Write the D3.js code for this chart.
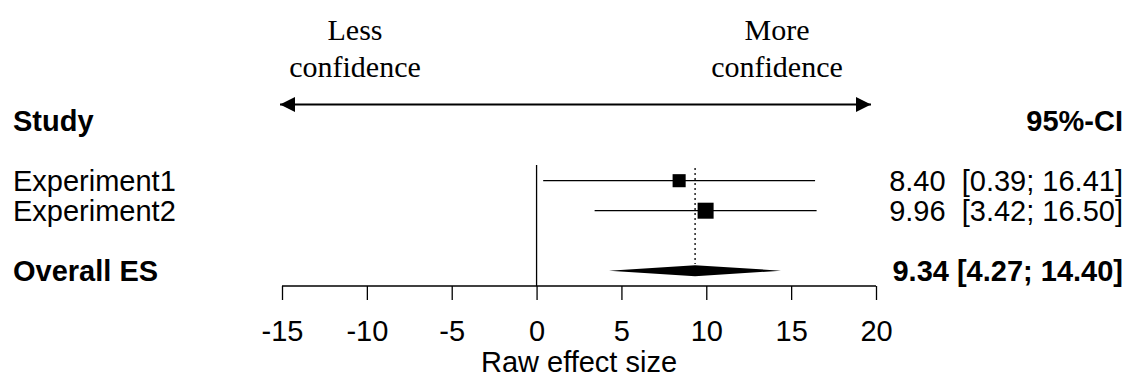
<!DOCTYPE html>
<html>
<head>
<meta charset="utf-8">
<script src="https://cdn.jsdelivr.net/npm/d3@7"></script>
<style>
  html, body { margin: 0; padding: 0; background: #fff; }
  svg { display: block; }
  text { white-space: pre; }
</style>
</head>
<body>
<svg id="chart" width="1126" height="383"></svg>
<script>
// Study-level estimates (raw effect size) with 95% confidence intervals
const studies = ["Experiment1", "Experiment2"];
const effects = [8.40, 9.96];
const lowerCI = [0.39, 3.42];
const upperCI = [16.41, 16.50];
const weights = [40.0, 60.0];

// Pooled estimate
const pooledLabel = "Overall ES";
const pooledEffect = 9.34;
const pooledLower = 4.27;
const pooledUpper = 14.40;

// Axis
const tickValues = [-15, -10, -5, 0, 5, 10, 15, 20];
const xDomain = [-15, 20];
const xLabel = "Raw effect size";
const leftHeader = "Study";
const rightHeader = "95%-CI";
const arrowLabels = [["Less", "confidence"], ["More", "confidence"]];

const svg = d3.select("#chart");
const sans = "'Liberation Sans', Arial, Helvetica, sans-serif";
const serif = "'Liberation Serif', 'Times New Roman', serif";
const fs = 29;

const x = d3.scaleLinear().domain(xDomain).range([282, 876]);
const rowKeys = ["header", "blank1", ...studies, "blank2", "pooled"];
const y = d3.scalePoint().domain(rowKeys).range([120.7, 270.7]);
const boxSize = d3.scaleSqrt().domain([0, d3.max(weights)]).range([0, 16]);

const fmt = d3.format(".2f");
const ciText = (e, l, u, sep) => `${fmt(e)}${sep}[${fmt(l)}; ${fmt(u)}]`;

// Headers
svg.append("text").attr("x", 13).attr("y", y("header")).attr("dy", "0.35em")
  .attr("font-family", sans).attr("font-size", fs).attr("font-weight", "bold")
  .text(leftHeader);
svg.append("text").attr("x", 1123).attr("y", y("header")).attr("dy", "0.35em")
  .attr("text-anchor", "end")
  .attr("font-family", sans).attr("font-size", fs).attr("font-weight", "bold")
  .text(rightHeader);

// Confidence direction labels and double-headed arrow
const labelCenters = [355, 777];
arrowLabels.forEach((lines, i) => {
  const t = svg.append("text").attr("text-anchor", "middle")
    .attr("font-family", serif).attr("font-size", 30);
  lines.forEach((ln, j) => {
    t.append("tspan").attr("x", labelCenters[i]).attr("y", 40 + j * 37).text(ln);
  });
});
const defs = svg.append("defs");
defs.append("marker").attr("id", "ah").attr("viewBox", "0 0 10 10")
  .attr("refX", 10).attr("refY", 5)
  .attr("markerWidth", 16).attr("markerHeight", 15)
  .attr("markerUnits", "userSpaceOnUse")
  .attr("orient", "auto-start-reverse")
  .append("path").attr("d", "M0,0 L10,5 L0,10 Z").attr("fill", "#000");
svg.append("line").attr("x1", 280).attr("x2", 871).attr("y1", 104.5).attr("y2", 104.5)
  .attr("stroke", "#000").attr("stroke-width", 2)
  .attr("marker-start", "url(#ah)").attr("marker-end", "url(#ah)");

// No-effect reference line
svg.append("line").attr("x1", x(0)).attr("x2", x(0))
  .attr("y1", 165).attr("y2", 286)
  .attr("stroke", "#000").attr("stroke-width", 1.3);

// Pooled-estimate dotted line
svg.append("line").attr("x1", x(pooledEffect)).attr("x2", x(pooledEffect))
  .attr("y1", 168).attr("y2", 264)
  .attr("stroke", "#000").attr("stroke-width", 1.3)
  .attr("stroke-dasharray", "2,3");

// Study rows
studies.forEach((s, i) => {
  const cy = y(s);
  svg.append("text").attr("x", 13).attr("y", cy).attr("dy", "0.35em")
    .attr("font-family", sans).attr("font-size", fs).text(s);
  svg.append("text").attr("x", 1123).attr("y", cy).attr("dy", "0.35em")
    .attr("text-anchor", "end")
    .attr("font-family", sans).attr("font-size", fs)
    .text(ciText(effects[i], lowerCI[i], upperCI[i], "  "));
  svg.append("line").attr("x1", x(lowerCI[i])).attr("x2", x(upperCI[i]))
    .attr("y1", cy).attr("y2", cy)
    .attr("stroke", "#000").attr("stroke-width", 1.3);
  const b = boxSize(weights[i]);
  svg.append("rect").attr("x", x(effects[i]) - b / 2).attr("y", cy - b / 2)
    .attr("width", b).attr("height", b).attr("fill", "#000");
});

// Pooled row
const py = y("pooled");
svg.append("text").attr("x", 13).attr("y", py).attr("dy", "0.35em")
  .attr("font-family", sans).attr("font-size", fs).attr("font-weight", "bold")
  .text(pooledLabel);
svg.append("text").attr("x", 1123).attr("y", py).attr("dy", "0.35em")
  .attr("text-anchor", "end")
  .attr("font-family", sans).attr("font-size", fs).attr("font-weight", "bold")
  .text(ciText(pooledEffect, pooledLower, pooledUpper, " "));
const dh = 5.5;
svg.append("path")
  .attr("d", `M${x(pooledLower)},${py} L${x(pooledEffect)},${py - dh} L${x(pooledUpper)},${py} L${x(pooledEffect)},${py + dh} Z`)
  .attr("fill", "#000");

// X axis (plain hyphen for negative tick labels)
const axis = d3.axisBottom(x).tickValues(tickValues).tickSize(14).tickPadding(20)
  .tickFormat(d => String(d));
const gx = svg.append("g").attr("transform", "translate(0,286)").call(axis);
gx.select(".domain").attr("stroke-width", 1.3).attr("d", `M${x(xDomain[0])},0H${x(xDomain[1])}`);
gx.selectAll(".tick line").attr("stroke-width", 1.3);
gx.selectAll(".tick text").attr("font-family", sans).attr("font-size", fs).attr("fill", "#000");
svg.append("text").attr("x", (x(xDomain[0]) + x(xDomain[1])) / 2).attr("y", 372)
  .attr("text-anchor", "middle")
  .attr("font-family", sans).attr("font-size", fs).text(xLabel);
</script>
</body>
</html>
